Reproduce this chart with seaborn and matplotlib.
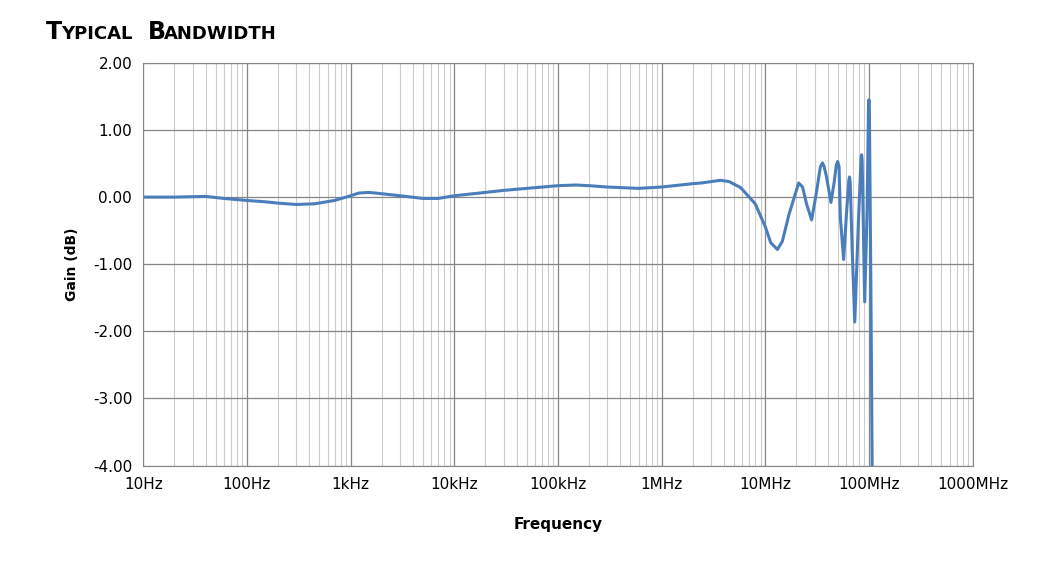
import numpy as np
import pandas as pd
import matplotlib
matplotlib.use('Agg')
import matplotlib.pyplot as plt
import matplotlib.ticker as mticker
import seaborn as sns
sns.set_style('white')

# frequency (Hz) and gain (dB)
freq = [10, 20, 40, 60, 100, 150, 200, 300, 450, 700, 1000, 1200, 1500, 2000, 3000,
        5000, 7000, 10e3, 20e3, 30e3, 50e3, 100e3, 150e3, 200e3, 300e3, 600e3,
        1e6, 2e6, 2.4e6, 3.7e6, 4.5e6, 5.8e6, 8e6, 10e6, 11.3e6, 13.1e6, 14.6e6,
        17e6, 21e6, 22.9e6, 25e6, 28e6, 31e6, 34e6, 35.7e6, 37e6, 39e6, 43e6, 46e6,
        48.5e6, 50e6, 51.5e6, 53e6, 57e6, 61e6, 64e6, 65e6, 66e6, 69e6, 73e6, 79e6,
        84e6, 85e6, 86e6, 88e6, 91e6, 96e6, 99e6, 100e6, 101e6, 104e6, 108e6]
gain = [0.0, 0.0, 0.01, -0.02, -0.05, -0.07, -0.09, -0.11, -0.10, -0.05, 0.02, 0.06,
        0.07, 0.05, 0.02, -0.02, -0.02, 0.02, 0.07, 0.10, 0.13, 0.17, 0.18, 0.17,
        0.15, 0.13, 0.15, 0.20, 0.21, 0.25, 0.23, 0.14, -0.10, -0.44, -0.68,
        -0.78, -0.66, -0.25, 0.21, 0.15, -0.10, -0.34, 0.05, 0.45, 0.51, 0.45,
        0.30, -0.08, 0.20, 0.48, 0.53, 0.45, -0.30, -0.93, -0.20, 0.25, 0.30,
        0.22, -0.80, -1.86, -0.40, 0.58, 0.63, 0.55, -0.30, -1.56, -0.20, 1.35,
        1.45, 1.30, -1.00, -4.5]
xticks = [10, 100, 1e3, 1e4, 1e5, 1e6, 1e7, 1e8, 1e9]
xlabels = ['10Hz', '100Hz', '1kHz', '10kHz', '100kHz', '1MHz', '10MHz', '100MHz', '1000MHz']

df = pd.DataFrame({'freq': freq, 'gain': gain})

fig = plt.figure(figsize=(10.38, 5.61), dpi=100)
ax = fig.add_axes([0.138, 0.17, 0.799, 0.718])
sns.lineplot(data=df, x='freq', y='gain', ax=ax, color='#4a7ebb', linewidth=2.2)
ax.set_xscale('log')
ax.set_xlim(10, 1e9)
ax.set_ylim(-4, 2)
ax.set_yticks(np.arange(-4, 2.01, 1))
ax.yaxis.set_major_formatter(mticker.FormatStrFormatter('%.2f'))
ax.set_xticks(xticks)
ax.set_xticklabels(xlabels)
ax.xaxis.set_minor_locator(mticker.LogLocator(base=10, subs=np.arange(2, 10), numticks=100))
ax.xaxis.set_minor_formatter(mticker.NullFormatter())
ax.grid(True, which='major', color='#868686', linewidth=0.9)
ax.grid(True, which='minor', axis='x', color='#cccccc', linewidth=0.8)
ax.tick_params(axis='both', which='both', length=0, labelsize=11, pad=8, labelcolor='black')
for s in ax.spines.values():
    s.set_color('#868686')
ax.set_xlabel('Frequency', fontsize=11, fontweight='bold', labelpad=18, color='black')
ax.set_ylabel('Gain (dB)', fontsize=10, fontweight='bold', labelpad=10, color='black')

# small-caps style title
fig.text(0.044, 0.93, 'T', fontsize=17, fontweight='bold', color='black')
fig.text(0.059, 0.93, 'YPICAL', fontsize=13, fontweight='bold', color='black')
fig.text(0.142, 0.93, 'B', fontsize=17, fontweight='bold', color='black')
fig.text(0.158, 0.93, 'ANDWIDTH', fontsize=13, fontweight='bold', color='black')

plt.savefig('out.png', dpi=100)
plt.close()
